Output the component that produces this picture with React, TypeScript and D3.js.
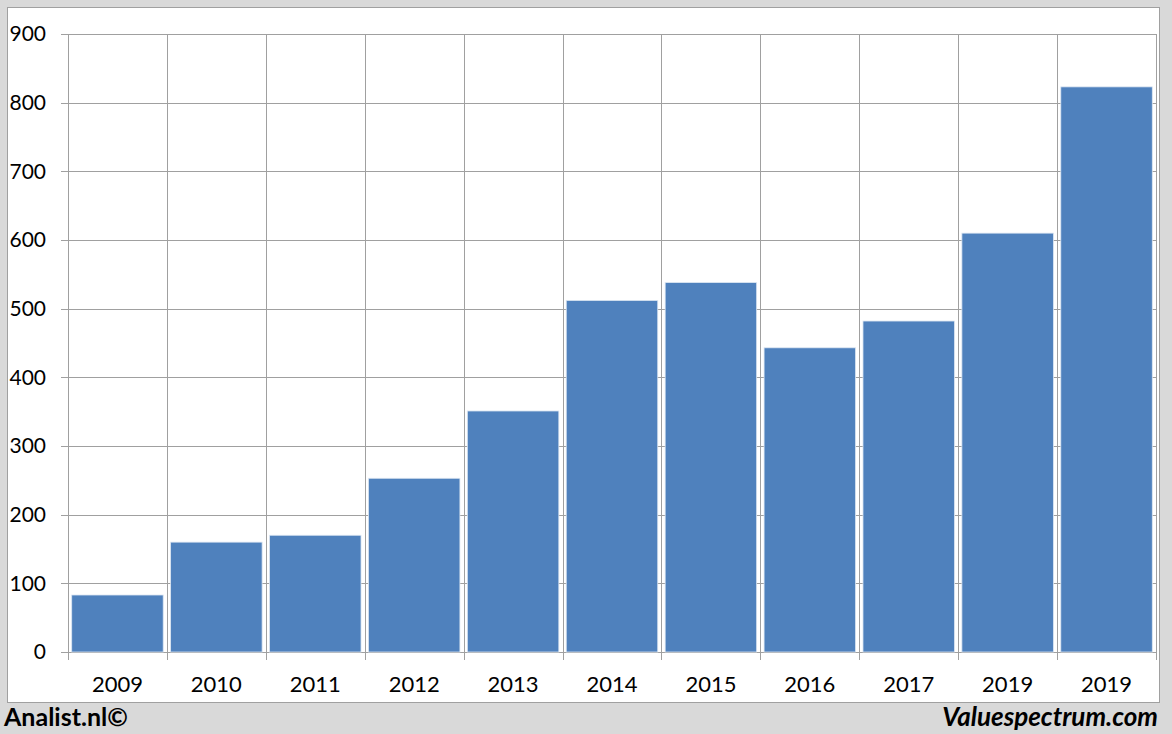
import React from "react";
import * as d3 from "d3";

const categories = ["2009", "2010", "2011", "2012", "2013", "2014", "2015", "2016", "2017", "2019", "2019"];
const values = [83, 160, 170, 253, 351, 512, 538, 443, 482, 610, 823];
const yTicks = [0, 100, 200, 300, 400, 500, 600, 700, 800, 900];

const W = 1172, H = 734;
const left = 68, right = 1156, top = 34, bottom = 652;
const FONT = "Lato, 'Open Sans', sans-serif";

export default function App() {
  const idx = categories.map((_, i) => String(i));
  const x = d3.scaleBand<string>().domain(idx).range([left, right]).paddingInner(0.075).paddingOuter(0.0375);
  const xb = d3.scaleBand<string>().domain(idx).range([left, right]);
  const y = d3.scaleLinear().domain([0, 900]).range([bottom, top]);
  const grid = "#a0a0a0";
  return (
    <svg width={W} height={H} style={{ position: "absolute", left: 0, top: 0, fontFamily: FONT }}>
      <rect x={0} y={0} width={W} height={H} fill="#d9d9d9" />
      <rect x={7.5} y={7.5} width={1152} height={695} fill="#ffffff" stroke="#a0a0a0" strokeWidth={1} />
      {yTicks.map((t) => (
        <g key={t}>
          <line x1={left - 7} x2={right} y1={Math.round(y(t)) + 0.5} y2={Math.round(y(t)) + 0.5} stroke={grid} strokeWidth={1} />
          <text x={46} y={y(t)} dy="0.35em" textAnchor="end" fontSize={21} fill="#000">{t}</text>
        </g>
      ))}
      {idx.map((k) => (
        <line key={"v" + k} x1={Math.round(xb(k)!) + 0.5} x2={Math.round(xb(k)!) + 0.5} y1={top} y2={bottom + 8} stroke={grid} strokeWidth={1} />
      ))}
      <line x1={Math.round(right) + 0.5} x2={Math.round(right) + 0.5} y1={top} y2={bottom + 8} stroke={grid} strokeWidth={1} />
      {idx.map((k, i) => (
        <rect key={"b" + k} x={x(k)!} y={y(values[i])} width={x.bandwidth()} height={bottom - y(values[i])} fill="#4f81bd" stroke="#dce6f2" strokeWidth={0.8} />
      ))}
      {idx.map((k, i) => (
        <text key={"t" + k} x={xb(k)! + xb.bandwidth() / 2} y={692} textAnchor="middle" fontSize={22} fill="#000">{categories[i]}</text>
      ))}
      <text x={4} y={726} fontSize={25} fontWeight="bold" fill="#000">Analist.nl©</text>
      <text x={1158} y={726} fontSize={26} fontWeight="bold" fontStyle="italic" textAnchor="end" fill="#000">Valuespectrum.com</text>
    </svg>
  );
}
